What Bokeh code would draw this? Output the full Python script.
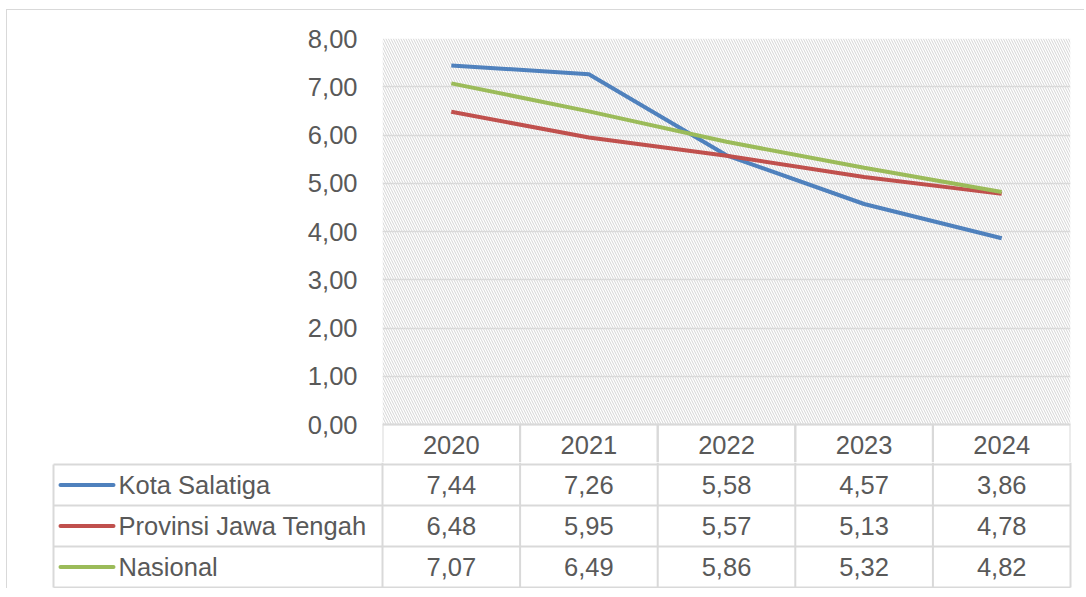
from bokeh.plotting import figure
from bokeh.models import Range1d, FactorRange, FixedTicker, BoxAnnotation
from bokeh.embed import file_html
from bokeh.resources import INLINE
from bokeh.core.properties import value

# ---------------- data ----------------
years = ["2020", "2021", "2022", "2023", "2024"]
series_names = ["Kota Salatiga", "Provinsi Jawa Tengah", "Nasional"]
kota_salatiga = [7.44, 7.26, 5.58, 4.57, 3.86]
jawa_tengah = [6.48, 5.95, 5.57, 5.13, 4.78]
nasional = [7.07, 6.49, 5.86, 5.32, 4.82]
y_ticks = [0, 1, 2, 3, 4, 5, 6, 7, 8]

series_values = [kota_salatiga, jawa_tengah, nasional]
colors = ["#4F81BD", "#C0504D", "#9BBB59"]

FONT = "Liberation Sans"
TEXT = "#595959"
GRID = "#d9d9d9"
FS = "25.5px"


def fmt(v):
    return f"{v:.2f}".replace(".", ",")


# ---------------- layout (page pixels) ----------------
X0 = 7            # canvas left edge on page (6px margin + 1px border)
W = 1078
CANVAS_T = 10     # 9px margin + 1px border
PLOT_L, PLOT_R = 382, 1070
PLOT_T, ZERO_Y = 38, 424
A_BOTTOM = 463
B_BOTTOM = 589
ROW_T, ROW_H = 465, 41
TABLE_L = 53
PX_PER_UNIT = (ZERO_Y - PLOT_T) / 8.0
HEADER_H = (ROW_T - ZERO_Y) / PX_PER_UNIT

# ---------------- chart figure ----------------
pA = figure(width=W, height=A_BOTTOM - CANVAS_T,
            x_range=FactorRange(factors=years),
            y_range=Range1d(-(A_BOTTOM - ZERO_Y) / PX_PER_UNIT, 8),
            output_backend="svg", toolbar_location=None,
            x_axis_location=None,
            min_border_left=PLOT_L - X0, min_border_right=X0 + W - PLOT_R,
            min_border_top=PLOT_T - CANVAS_T, min_border_bottom=0,
            styles={"margin-left": "6px", "margin-top": "9px",
                    "border-left": "1px solid #d9d9d9", "border-top": "1px solid #d9d9d9"})
pA.outline_line_color = None
pA.background_fill_color = "white"
pA.border_fill_color = "white"

yax = pA.yaxis[0]
yax.ticker = FixedTicker(ticks=y_ticks)
yax.major_label_overrides = {t: fmt(t) for t in y_ticks}
yax.axis_line_color = None
yax.major_tick_line_color = None
yax.minor_tick_line_color = None
yax.major_tick_out = 0
yax.major_tick_in = 0
yax.major_label_standoff = 25
yax.major_label_text_font = FONT
yax.major_label_text_font_size = FS
yax.major_label_text_color = TEXT

pA.xgrid.visible = False
pA.ygrid.ticker = FixedTicker(ticks=y_ticks)
pA.ygrid.grid_line_color = GRID
pA.ygrid.grid_line_width = 1.5

hatch = BoxAnnotation(bottom=0, top=8, fill_color=None, line_color=None,
                      hatch_pattern="left_diagonal_line", hatch_color="#d4d4d4",
                      hatch_scale=5, hatch_weight=1, level="image")
pA.add_layout(hatch)

for vals, c in zip(series_values, colors):
    pA.line(x=years, y=vals, line_color=c, line_width=4)

# header row of the data table
pA.rect(x=years, y=[-HEADER_H / 2] * len(years), width=1, height=HEADER_H,
        fill_color=None, line_color=GRID, line_width=2)
pA.text(x=years, y=[-HEADER_H / 2] * len(years), text=years,
        text_font=value(FONT), text_font_size=value(FS), text_color=TEXT,
        text_align="center", text_baseline="middle")

# ---------------- table figure ----------------
col_w = (PLOT_R - PLOT_L) / 5.0


def xu(px):
    return (px - PLOT_L) / col_w


def yu(px):
    return (ROW_T + 3 * ROW_H - px) / ROW_H


pB = figure(width=W, height=B_BOTTOM - A_BOTTOM,
            x_range=Range1d(xu(X0), xu(X0 + W)),
            y_range=Range1d(yu(B_BOTTOM), yu(A_BOTTOM)),
            output_backend="svg", toolbar_location=None,
            x_axis_location=None, y_axis_location=None,
            min_border_left=0, min_border_right=0, min_border_top=0, min_border_bottom=0,
            styles={"margin-left": "6px", "border-left": "1px solid #d9d9d9"})
pB.outline_line_color = None
pB.background_fill_color = "white"
pB.border_fill_color = "white"
pB.grid.visible = False

n = len(series_names)
# horizontal lines
hx0 = [xu(TABLE_L)] * (n + 1)
hx1 = [5] * (n + 1)
hy = list(range(n + 1))
pB.segment(x0=hx0, y0=hy, x1=hx1, y1=hy, line_color=GRID, line_width=2)
# vertical lines
vx = [xu(TABLE_L)] + list(range(len(years) + 1))
vy0 = [0] * len(vx)
vy1 = [n] + [yu(A_BOTTOM)] * (len(years) + 1)
pB.segment(x0=vx, y0=vy0, x1=vx, y1=vy1, line_color=GRID, line_width=2)

row_y = [n - i - 0.5 for i in range(n)]
# legend keys
pB.segment(x0=[xu(60)] * n, y0=row_y, x1=[xu(113)] * n, y1=row_y,
           line_color=colors, line_width=4, line_cap="round")
pB.text(x=[xu(118)] * n, y=row_y, text=series_names,
        text_font=value(FONT), text_font_size=value(FS), text_color=TEXT,
        text_align="left", text_baseline="middle")

# values
vx_, vy_, vt_ = [], [], []
for i, vals in enumerate(series_values):
    for j, v in enumerate(vals):
        vx_.append(j + 0.5)
        vy_.append(row_y[i])
        vt_.append(fmt(v))
pB.text(x=vx_, y=vy_, text=vt_,
        text_font=value(FONT), text_font_size=value(FS), text_color=TEXT,
        text_align="center", text_baseline="middle")

open("out.html", "w").write(file_html([pA, pB], INLINE))
